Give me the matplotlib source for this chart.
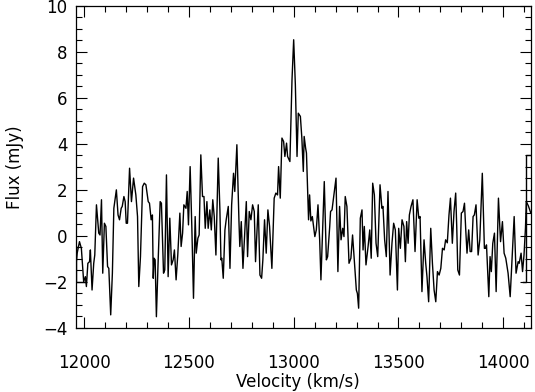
import matplotlib
matplotlib.use("Agg")
import matplotlib.pyplot as plt
from matplotlib.ticker import MultipleLocator

# Spectrum (velocity in km/s, flux in mJy)
velocity = [
    11959, 11967, 11978, 11987, 11998, 12006, 12011, 12018, 12026, 12030,
    12038, 12046, 12051, 12059, 12070, 12076, 12083, 12089, 12097, 12104,
    12112, 12118, 12127, 12135, 12142, 12154, 12162, 12169, 12177, 12182,
    12190, 12196, 12201, 12207, 12217, 12226, 12236, 12247, 12255, 12261,
    12269, 12279, 12287, 12295, 12306, 12312, 12320, 12326, 12330, 12334,
    12339, 12345, 12353, 12363, 12369, 12379, 12385, 12393, 12401, 12409,
    12417, 12425, 12431, 12439, 12447, 12457, 12463, 12470, 12476, 12486,
    12492, 12498, 12506, 12514, 12522, 12530, 12535, 12543, 12549, 12557,
    12565, 12572, 12578, 12586, 12592, 12600, 12607, 12614, 12621, 12629,
    12640, 12648, 12653, 12657, 12664, 12672, 12678, 12688, 12696, 12704,
    12713, 12719, 12729, 12739, 12743, 12750, 12758, 12764, 12774, 12780,
    12788, 12796, 12804, 12812, 12818, 12825, 12831, 12839, 12847, 12853,
    12861, 12869, 12877, 12885, 12896, 12907, 12915, 12923, 12928, 12936,
    12944, 12952, 12958, 12966, 12971, 12982, 12992, 13000, 13008, 13016,
    13022, 13032, 13039, 13046, 13050, 13057, 13061, 13071, 13076, 13082,
    13089, 13095, 13101, 13108, 13116, 13124, 13130, 13138, 13146, 13156,
    13162, 13172, 13176, 13183, 13191, 13202, 13211, 13219, 13226, 13234,
    13240, 13246, 13254, 13264, 13273, 13281, 13289, 13299, 13304, 13310,
    13318, 13326, 13331, 13337, 13345, 13355, 13363, 13370, 13377, 13385,
    13393, 13401, 13412, 13421, 13426, 13434, 13442, 13450, 13460, 13469,
    13477, 13485, 13495, 13501, 13509, 13517, 13526, 13533, 13539, 13546,
    13552, 13560, 13569, 13579, 13589, 13597, 13603, 13612, 13622, 13630,
    13636, 13644, 13654, 13662, 13670, 13678, 13686, 13694, 13702, 13710,
    13718, 13725, 13733, 13741, 13748, 13757, 13765, 13773, 13778, 13783,
    13791, 13800, 13808, 13815, 13821, 13827, 13835, 13842, 13849, 13856,
    13862, 13870, 13880, 13888, 13900, 13910, 13915, 13920, 13931, 13937,
    13943, 13950, 13958, 13966, 13977, 13987, 13996, 14004, 14012, 14023,
    14033, 14042, 14052, 14061, 14071, 14076, 14085, 14092, 14099, 14106,
    14110, 14120, 14131,
]
flux = [
    -1.48, -0.75, -0.25, -0.54, -1.99, -1.77, -2.20, -1.19, -1.12, -0.61,
    -2.35, -1.19, -0.83, 1.35, 0.12, 0.04, 1.57, -1.62, 0.55, 0.41,
    -1.33, -1.41, -3.43, -1.62, 1.20, 2.00, 0.91, 0.70, 1.20, 1.28,
    1.71, 1.49, 0.55, 0.55, 2.94, 1.49, 2.51, 1.78, 0.84, -2.20,
    -0.90, 2.14, 2.29, 2.22, 1.49, 1.42, 0.70, 0.91, -1.84, -0.97,
    -1.04, -3.51, -1.19, 1.49, 1.42, -1.62, -1.48, 2.65, -1.77, 0.77,
    -1.26, -1.04, -0.61, -1.91, -0.83, 0.99, -0.46, 0.12, 1.35, 1.20,
    1.93, 0.48, 3.01, 0.41, -2.71, 0.84, -0.75, -0.10, 0.04, 3.52,
    1.71, 1.71, 0.33, 1.49, 0.33, 1.13, 0.26, 1.57, 0.84, -0.83,
    3.38, 1.13, -1.04, -0.97, -1.84, 0.26, 0.70, 1.28, -1.41, 1.35,
    2.72, 1.93, 3.96, 0.62, -0.46, 0.62, -1.41, -0.32, 1.49, -0.90,
    1.06, 0.70, 1.35, 1.06, -1.12, 0.26, 1.35, -1.70, -1.84, -1.04,
    0.70, -0.75, 1.13, 0.41, -1.41, 1.64, 1.86, 1.78, 3.01, 1.64,
    4.25, 4.10, 3.45, 4.03, 3.45, 3.23, 6.78, 8.52, 6.57, 3.45,
    5.33, 5.19, 4.25, 2.80, 4.32, 3.81, 3.60, 0.70, 1.78, 0.65,
    0.84, 0.41, -0.03, 0.26, 1.35, -0.17, -1.91, 0.26, 2.36, -1.04,
    -0.90, 0.41, 1.06, 1.13, 1.71, 2.51, -1.55, 1.28, -0.17, 0.33,
    -0.03, 1.71, 1.28, -1.19, -0.97, 0.04, -1.04, -2.35, -2.50, -3.14,
    0.77, 1.13, -0.61, 0.41, -1.26, -0.46, 0.26, -0.97, 2.29, 1.78,
    -0.32, -0.90, 2.22, 1.20, 1.28, -0.17, -0.90, 1.93, -1.70, -0.32,
    0.55, 0.26, -2.35, 0.33, -0.54, 0.70, 0.41, -1.12, 0.62, -0.32,
    0.91, 1.28, 1.57, -0.68, 1.57, 0.77, 0.84, -2.42, -0.17, -1.19,
    -1.77, -2.86, 0.33, -1.19, -2.35, -2.86, -1.55, -1.70, -1.41, -0.54,
    -0.61, -0.17, -0.30, 0.91, 1.64, -0.32, 1.06, 1.86, 0.40, -1.48,
    -1.70, 0.99, 1.06, 1.42, 0.26, -0.75, 0.26, -0.68, -0.68, 0.84,
    0.91, 1.35, -0.83, -0.17, 2.72, -0.54, -0.54, -0.39, -2.64, -0.90,
    -1.55, -0.32, 0.12, -2.42, 1.64, -0.25, 0.62, -0.75, -0.97, -1.62,
    -2.64, -1.00, 0.84, -1.62, -1.12, -1.19, -0.75, -1.55, -0.83, 0.35,
    1.49, 1.30, 1.00,
]

# Edge brackets drawn at the plot boundaries in the reference
left_edge_v = [11968, 11960, 11960, 12004]
left_edge_f = [-0.5, -0.5, -2.0, -2.0]
right_edge_v = [14096, 14108, 14108, 14131]
right_edge_f = [-2.0, -2.0, 3.52, 3.52]

x_range = (11960, 14131)
y_range = (-4, 10)

plt.rcParams['font.family'] = ['DejaVu Sans']

fig = plt.figure(figsize=(5.35, 3.92), dpi=100)
ax = fig.add_axes([0.1415, 0.1633, 0.8505, 0.8222])

ax.plot(velocity, flux, color='black', lw=1.0)
ax.plot(left_edge_v, left_edge_f, color='black', lw=1.0)
ax.plot(right_edge_v, right_edge_f, color='black', lw=1.0, clip_on=True)

ax.set_xlim(*x_range)
ax.set_ylim(*y_range)

ax.xaxis.set_major_locator(MultipleLocator(500))
ax.xaxis.set_minor_locator(MultipleLocator(100))
ax.yaxis.set_major_locator(MultipleLocator(2))
ax.yaxis.set_minor_locator(MultipleLocator(0.5))

ax.tick_params(which='both', direction='in', top=True, right=True, width=0.8,
               labelsize=12, colors='black')
ax.tick_params(axis='x', which='major', length=8, pad=19)
ax.tick_params(axis='x', which='minor', length=4.5)
ax.tick_params(axis='y', which='major', length=8, pad=6)
ax.tick_params(axis='y', which='minor', length=4.5)

for s in ax.spines.values():
    s.set_linewidth(0.9)

ax.set_xlabel('Velocity (km/s)', fontsize=12)
ax.set_ylabel('Flux (mJy)', fontsize=12)
ax.xaxis.set_label_coords(0.489, -0.14)
ax.yaxis.set_label_coords(-0.113, 0.5)

fig.savefig('out.png', dpi=100)
